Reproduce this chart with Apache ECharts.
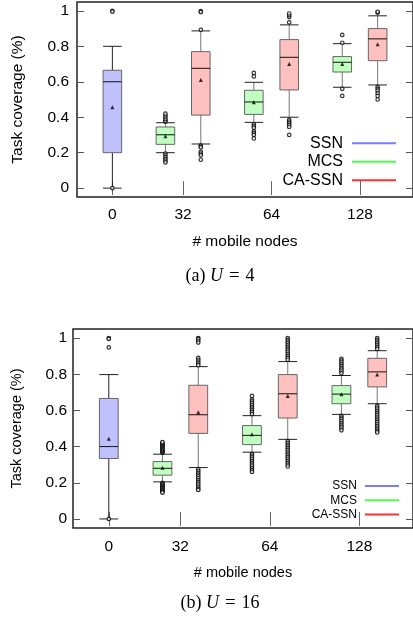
<!DOCTYPE html>
<html>
<head>
<meta charset="utf-8">
<script src="https://cdn.jsdelivr.net/npm/echarts@6/dist/echarts.min.js"></script>
<style>
  html, body { margin: 0; padding: 0; background: #fff; }
  #chart { width: 413px; height: 617px; }
</style>
</head>
<body>
<div id="chart"></div>
<script>
const nodeLabels = ['0', '32', '64', '128'];
const nodePos = [1.2, 2, 3, 4];
const yTicks = [0, 0.2, 0.4, 0.6, 0.8, 1];

// (a) U = 4 : [low whisker, Q1, median, Q3, high whisker]
const ssnBoxA = [[0.00, 0.20, 0.60, 0.665, 0.80]];
const mcsBoxA = [[0.20, 0.247, 0.301, 0.345, 0.369], [0.371, 0.416, 0.486, 0.552, 0.597], [0.569, 0.655, 0.71, 0.742, 0.815]];
const cassnBoxA = [[0.249, 0.412, 0.676, 0.77, 0.887], [0.40, 0.554, 0.738, 0.838, 0.921], [0.582, 0.719, 0.842, 0.90, 0.972]];
const ssnMeanA = [0.456];
const mcsMeanA = [0.292, 0.484, 0.70];
const cassnMeanA = [0.61, 0.70, 0.812];
const ssnOutA = [[1.0, 0.995, 0.0]];
const mcsOutA = [
  [0.375, 0.38, 0.39, 0.40, 0.41, 0.42, 0.195, 0.185, 0.175, 0.165, 0.155, 0.145],
  [0.63, 0.65, 0.36, 0.35, 0.34, 0.32, 0.31, 0.30, 0.28],
  [0.82, 0.864, 0.56, 0.52]
];
const cassnOutA = [
  [0.893, 0.998, 0.993, 0.24, 0.235, 0.23, 0.205, 0.195, 0.185, 0.16],
  [0.935, 0.965, 0.975, 0.985, 0.385, 0.375, 0.365, 0.355, 0.345, 0.30],
  [0.99, 0.995, 0.57, 0.56, 0.55, 0.535, 0.52, 0.50]
];

// (b) U = 16
const ssnBoxB = [[0.00, 0.334, 0.40, 0.666, 0.798]];
const mcsBoxB = [[0.205, 0.242, 0.28, 0.317, 0.358], [0.369, 0.411, 0.462, 0.516, 0.571], [0.578, 0.637, 0.69, 0.737, 0.793]];
const cassnBoxB = [[0.284, 0.473, 0.576, 0.739, 0.842], [0.44, 0.558, 0.692, 0.798, 0.87], [0.637, 0.73, 0.813, 0.888, 0.93]];
const ssnMeanB = [0.444];
const mcsMeanB = [0.283, 0.468, 0.69];
const cassnMeanB = [0.59, 0.679, 0.798];
const ssnOutB = [[1.0, 0.995, 0.948, 0.0]];
const mcsOutB = [
  [0.365, 0.37, 0.375, 0.38, 0.385, 0.39, 0.395, 0.40, 0.405, 0.41, 0.415, 0.42, 0.425,
   0.20, 0.195, 0.19, 0.185, 0.18, 0.175, 0.17, 0.165, 0.16, 0.155, 0.15, 0.145],
  [0.68, 0.66, 0.65, 0.64, 0.63, 0.62, 0.61, 0.60, 0.59, 0.58,
   0.36, 0.35, 0.34, 0.33, 0.32, 0.31, 0.30, 0.29, 0.28, 0.27, 0.26],
  [0.885, 0.875, 0.865, 0.855, 0.845, 0.835, 0.825, 0.815, 0.805,
   0.57, 0.56, 0.55, 0.54, 0.53, 0.52, 0.51, 0.50, 0.49]
];
const cassnOutB = [
  [1.0, 0.995, 0.985, 0.975, 0.89, 0.88, 0.87, 0.86, 0.85,
   0.275, 0.265, 0.255, 0.245, 0.235, 0.225, 0.215, 0.205, 0.195, 0.185, 0.175, 0.165, 0.16],
  [1.0, 0.99, 0.98, 0.97, 0.96, 0.95, 0.94, 0.93, 0.92, 0.91, 0.90, 0.89, 0.88,
   0.43, 0.42, 0.41, 0.40, 0.39, 0.38, 0.37, 0.36, 0.35, 0.34, 0.33, 0.32, 0.31, 0.30, 0.29],
  [1.0, 0.99, 0.98, 0.97, 0.96, 0.95, 0.94,
   0.625, 0.615, 0.605, 0.595, 0.585, 0.575, 0.565, 0.555, 0.545, 0.535, 0.525, 0.515, 0.505, 0.495, 0.485, 0.478]
];

const sans = 'Liberation Sans, Arial, sans-serif';
const serif = 'Liberation Serif, Times New Roman, serif';
const boxWidth = 0.21;
const offset = 0.2;

const kinds = [
  { name: 'SSN', fill: '#c0c0ff', whisker: '#222', legend: '#7b7bff', first: 0, shift: 0 },
  { name: 'MCS', fill: '#c0ffc0', whisker: '#777', legend: '#4dff4d', first: 1, shift: -offset },
  { name: 'CA-SSN', fill: '#ffc0c0', whisker: '#777', legend: '#ff3030', first: 1, shift: offset }
];

const plots = [
  { boxes: [ssnBoxA, mcsBoxA, cassnBoxA], means: [ssnMeanA, mcsMeanA, cassnMeanA], outs: [ssnOutA, mcsOutA, cassnOutA] },
  { boxes: [ssnBoxB, mcsBoxB, cassnBoxB], means: [ssnMeanB, mcsMeanB, cassnMeanB], outs: [ssnOutB, mcsOutB, cassnOutB] }
];

function labelOf(v) {
  const i = nodePos.findIndex(p => Math.abs(p - v) < 1e-6);
  return i < 0 ? '' : nodeLabels[i];
}

function boxRenderer(kind) {
  return function (params, api) {
    const x = api.value(0);
    const lo = api.coord([x, api.value(1)]);
    const q1 = api.coord([x, api.value(2)]);
    const md = api.coord([x, api.value(3)]);
    const q3 = api.coord([x, api.value(4)]);
    const hi = api.coord([x, api.value(5)]);
    const half = api.size([boxWidth, 0])[0] / 2;
    const cx = lo[0];
    const wl = { stroke: kind.whisker, lineWidth: 1 };
    const cap = { stroke: '#222', lineWidth: 1 };
    return {
      type: 'group',
      children: [
        { type: 'line', shape: { x1: cx, y1: hi[1], x2: cx, y2: q3[1] }, style: wl },
        { type: 'line', shape: { x1: cx, y1: q1[1], x2: cx, y2: lo[1] }, style: wl },
        { type: 'line', shape: { x1: cx - half, y1: hi[1], x2: cx + half, y2: hi[1] }, style: cap },
        { type: 'line', shape: { x1: cx - half, y1: lo[1], x2: cx + half, y2: lo[1] }, style: cap },
        { type: 'rect', shape: { x: cx - half, y: q3[1], width: half * 2, height: q1[1] - q3[1] },
          style: { fill: kind.fill, stroke: '#666', lineWidth: 1 } },
        { type: 'line', shape: { x1: cx - half, y1: md[1], x2: cx + half, y2: md[1] }, style: { stroke: '#111', lineWidth: 1 } }
      ]
    };
  };
}

const layout = [
  { left: 77, top: 2, height: 195, tick: 15.5, title: 15.5, yGap: 51, yMargin: 8, xMargin: 10 },
  { left: 73, top: 329, height: 199, tick: 15.5, title: 14.5, yGap: 49, yMargin: 6, xMargin: 11 }
];

const grid = [], xAxis = [], yAxis = [], series = [];

layout.forEach((l, g) => {
  grid.push({ left: l.left, top: l.top, height: l.height, right: -2, show: true, borderColor: '#222', borderWidth: 1.5, backgroundColor: 'transparent' });
  const tick = { inside: true, length: 7, customValues: nodePos, lineStyle: { color: '#666', width: 1 } };
  xAxis.push({
    gridIndex: g, type: 'value', min: 0.8, max: 4.6, position: 'bottom',
    axisLine: { show: false }, splitLine: { show: false }, axisTick: tick,
    axisLabel: { customValues: nodePos, formatter: labelOf, fontSize: l.tick, color: '#000', fontFamily: sans, margin: l.xMargin },
    name: '# mobile nodes', nameLocation: 'middle', nameGap: 37,
    nameTextStyle: { fontSize: l.title, color: '#000', fontFamily: sans }
  });
  xAxis.push({
    gridIndex: g, type: 'value', min: 0.8, max: 4.6, position: 'top',
    axisLine: { show: false }, splitLine: { show: false }, axisTick: tick, axisLabel: { show: false }
  });
  const yTick = { inside: true, length: 7, customValues: yTicks, lineStyle: { color: '#555', width: 1 } };
  yAxis.push({
    gridIndex: g, type: 'value', min: -0.05, max: 1.05, position: 'left',
    axisLine: { show: false }, splitLine: { show: false }, axisTick: yTick,
    axisLabel: { customValues: yTicks, fontSize: l.tick, color: '#000', fontFamily: sans, margin: l.yMargin },
    name: 'Task coverage (%)', nameLocation: 'middle', nameGap: l.yGap,
    nameTextStyle: { fontSize: l.title, color: '#000', fontFamily: sans }
  });
  yAxis.push({
    gridIndex: g, type: 'value', min: -0.05, max: 1.05, position: 'right',
    axisLine: { show: false }, splitLine: { show: false }, axisTick: yTick, axisLabel: { show: false }
  });

  const p = plots[g];
  kinds.forEach((k, s) => {
    const posOf = i => nodePos[i + k.first] + k.shift;
    series.push({
      name: k.name, type: 'custom', xAxisIndex: g * 2, yAxisIndex: g * 2,
      itemStyle: { color: k.legend },
      renderItem: boxRenderer(k),
      encode: { x: 0, y: [1, 2, 3, 4, 5] },
      data: p.boxes[s].map((b, i) => [posOf(i)].concat(b))
    });
  });
  kinds.forEach((k, s) => {
    const posOf = i => nodePos[i + k.first] + k.shift;
    series.push({
      type: 'scatter', xAxisIndex: g * 2, yAxisIndex: g * 2, symbol: 'circle', symbolSize: 3.5,
      itemStyle: { color: '#fff', borderColor: '#000', borderWidth: 1.2 }, silent: true,
      data: p.outs[s].flatMap((vals, i) => vals.map(v => [posOf(i), v]))
    });
    series.push({
      type: 'scatter', xAxisIndex: g * 2, yAxisIndex: g * 2, symbol: 'triangle', symbolSize: 4,
      itemStyle: { color: '#000' }, silent: true,
      data: p.means[s].map((v, i) => [posOf(i), v])
    });
  });
});

const legendData = kinds.map(k => ({ name: k.name, itemStyle: { color: k.legend, borderWidth: 0 } }));

const captionRich = {
  n: { fontFamily: serif, fontSize: 18, fill: '#000' },
  i: { fontFamily: serif, fontSize: 18, fontStyle: 'italic', fill: '#000' },
  e: { fontFamily: serif, fontSize: 19, fill: '#000', padding: [0, 6, 0, 6] }
};

const chart = echarts.init(document.getElementById('chart'));
chart.setOption({
  animation: false,
  grid, xAxis, yAxis, series,
  legend: [
    { data: legendData, orient: 'vertical', align: 'right', right: 17, top: 134, padding: 0, itemGap: 0,
      itemWidth: 44, itemHeight: 2, icon: 'rect', selectedMode: false,
      textStyle: { fontSize: 16, lineHeight: 18.5, color: '#000', fontFamily: sans, padding: [0, 4, 0, 0] } },
    { data: legendData, orient: 'vertical', align: 'right', right: 14, top: 479, padding: 0, itemGap: 0,
      itemWidth: 34, itemHeight: 2, icon: 'rect', selectedMode: false,
      textStyle: { fontSize: 12, lineHeight: 14.2, color: '#000', fontFamily: sans, padding: [0, 3, 0, 0] } }
  ],
  graphic: [
    { type: 'text', x: 220, y: 276, style: { text: '{n|(a) }{i|U}{e|=}{n|4}', align: 'center', verticalAlign: 'middle', rich: captionRich } },
    { type: 'text', x: 220, y: 603, style: { text: '{n|(b) }{i|U}{e|=}{n|16}', align: 'center', verticalAlign: 'middle', rich: captionRich } }
  ]
});
</script>
</body>
</html>
